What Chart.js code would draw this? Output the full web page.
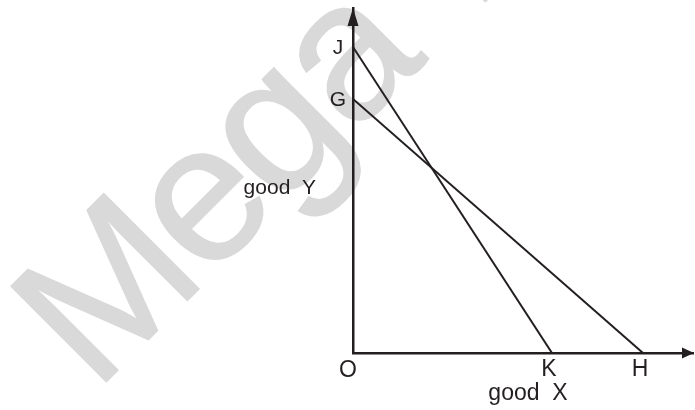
<!DOCTYPE html>
<html>
<head>
<meta charset="utf-8">
<script src="https://cdn.jsdelivr.net/npm/chart.js@4.4.0/dist/chart.umd.min.js"></script>
<style>
	body { margin: 0; background: #ffffff; }
	canvas { display: block; }
</style>
</head>
<body>
<canvas id="mycanvas" width="695" height="410"></canvas>
<script>
// budget lines, in units of the two goods
var lineJK_x = [0, 19.9];
var lineJK_y = [30.6, 0];
var lineGH_x = [0, 29.0];
var lineGH_y = [25.4, 0];

// axis labels on the intercepts
var yNames = ['J', 'G'];
var yValues = [30.6, 25.4];
var xNames = ['K', 'H'];
var xValues = [19.9, 29.0];

var xMax = 34;
var yMax = 34.5;

function toPoints(xs, ys) {
	var pts = [];
	for (var i in xs) {
		pts.push({x: xs[i], y: ys[i]});
	}
	return pts;
}

var ink = "#231f20";

var watermark = {
	id: 'watermark',
	beforeDraw: function(chart) {
		var c = chart.ctx;
		c.save();
		c.translate(95, 393);
		c.rotate(-45 * Math.PI / 180);
		c.fillStyle = "#d9d9d9";
		c.strokeStyle = "#d9d9d9";
		c.lineWidth = 1.5;
		c.lineJoin = 'round';
		c.font = "196px 'Liberation Sans', Arial, sans-serif";
		c.letterSpacing = "-6px";
		c.textBaseline = 'alphabetic';
		c.fillText("Mega", 0, 0);
		c.strokeText("Mega", 0, 0);
		c.fillText("Lecture", 536, 0);
		c.restore();
	}
};

var extras = {
	id: 'extras',
	afterDraw: function(chart) {
		var c = chart.ctx;
		var xs = chart.scales.x, ys = chart.scales.y;
		var ox = xs.getPixelForValue(0), oy = ys.getPixelForValue(0);
		var tx = xs.getPixelForValue(xMax), ty = ys.getPixelForValue(yMax);
		c.save();
		c.fillStyle = ink;
		// arrow heads
		c.beginPath();
		c.moveTo(ox, ty);
		c.lineTo(ox - 5.5, ty + 18);
		c.lineTo(ox + 5.5, ty + 18);
		c.closePath();
		c.fill();
		c.beginPath();
		c.moveTo(tx + 1, oy);
		c.lineTo(tx - 11, oy - 5.5);
		c.lineTo(tx - 11, oy + 5.5);
		c.closePath();
		c.fill();

		c.textAlign = 'center';
		c.textBaseline = 'middle';
		c.font = "21px 'Liberation Sans', Arial, sans-serif";
		for (var i in yNames) {
			c.fillText(yNames[i], ox - 15, ys.getPixelForValue(yValues[i]) + 1);
		}
		c.textAlign = 'right';
		c.fillText("good  Y", ox - 37, oy - 165);

		c.textAlign = 'center';
		c.font = "23px 'Liberation Sans', Arial, sans-serif";
		c.fillText("O", ox - 5, oy + 18);
		for (var j in xNames) {
			c.fillText(xNames[j], xs.getPixelForValue(xValues[j]) - 3, oy + 17);
		}
		c.fillText("good  X", xs.getPixelForValue(17.5), oy + 41);
		c.restore();
	}
};

var ctx = document.getElementById("mycanvas");

var chart = new Chart(ctx, {
	type: 'scatter',
	data: {
		datasets: [
			{
				data: toPoints(lineJK_x, lineJK_y),
				showLine: true,
				borderColor: ink,
				borderWidth: 2,
				pointRadius: 0
			},
			{
				data: toPoints(lineGH_x, lineGH_y),
				showLine: true,
				borderColor: ink,
				borderWidth: 2,
				pointRadius: 0
			}
		]
	},
	options: {
		responsive: false,
		animation: false,
		layout: { padding: { left: 353, right: 2, top: 8, bottom: 57 } },
		plugins: { legend: { display: false }, tooltip: { enabled: false } },
		scales: {
			x: {
				min: 0, max: xMax,
				grid: { display: false, drawTicks: false },
				ticks: { display: false },
				border: { color: ink, width: 2.5 }
			},
			y: {
				min: 0, max: yMax,
				grid: { display: false, drawTicks: false },
				ticks: { display: false },
				border: { color: ink, width: 2.5 }
			}
		}
	},
	plugins: [watermark, extras]
});
</script>
</body>
</html>
